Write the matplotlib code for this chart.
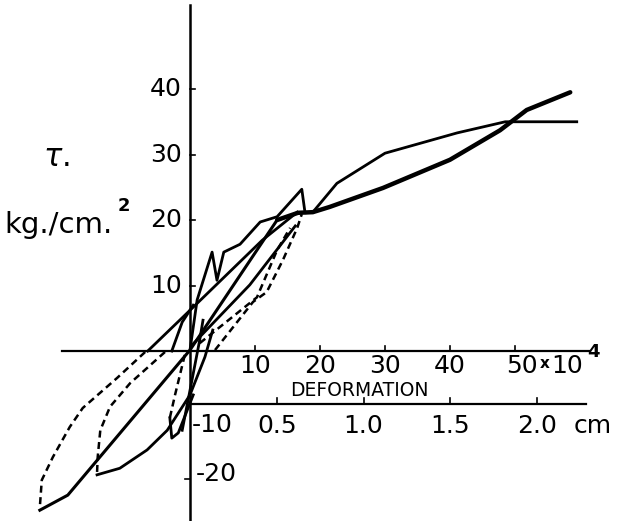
import matplotlib
matplotlib.use("Agg")
import matplotlib.pyplot as plt

# --- data (x in 10^-4 units, y = tau in kg/cm2) ---
thick_x = [13.4, 16.6, 18.9, 21.5, 29.7, 40.0, 47.7, 51.8, 58.5]
thick_y = [20.0, 21.1, 21.2, 22.0, 24.9, 29.2, 33.7, 36.8, 39.5]

upper_x = [18.9, 22.6, 30.0, 41.1, 48.5, 59.5]
upper_y = [21.2, 25.6, 30.2, 33.3, 35.0, 35.0]

diag_x = [-23.1, -18.8, 0.0, 13.4]
diag_y = [-24.3, -22.0, 0.15, 20.0]

line_a_x = [-6.5, 0.5, 11.1, 16.5]
line_a_y = [0.0, 6.7, 16.9, 21.2]

spike_x = [0.0, 1.1, 3.4, 4.15, 5.2, 7.7, 10.8, 13.4, 17.2, 17.7, 18.9]
spike_y = [0.15, 7.8, 15.1, 10.8, 15.1, 16.3, 19.7, 20.5, 24.7, 21.1, 21.2]

mid_x = [0.3, 9.2, 16.2]
mid_y = [0.9, 10.1, 19.1]

low_in_x = [-14.3, -10.8, -6.6, -3.5, 0.0, 2.3, 3.5]
low_in_y = [-18.9, -17.9, -15.1, -12.1, -6.7, -0.9, 3.2]

hook_x = [-3.1, -2.8, -1.8, 0.5]
hook_y = [-10.2, -13.3, -12.5, -6.7]

steep_x = [-1.2, 0.0, 1.5, 2.0]
steep_y = [-12.1, -6.0, 1.7, 4.7]

short_x = [-2.8, -1.2, 0.5]
short_y = [0.0, 4.4, 7.0]

# dashed branches
dra_x = [3.85, 9.7, 11.8, 14.3, 16.5, 17.2]
dra_y = [0.15, 7.5, 9.0, 13.9, 18.8, 20.9]
drb_x = [1.5, 10.3, 13.4, 15.4]
drb_y = [1.2, 8.2, 15.4, 18.8]
dlo_x = [-6.9, -11.2, -16.5, -18.5, -21.1, -22.8, -23.1]
dlo_y = [-0.15, -4.1, -8.7, -11.6, -16.2, -19.7, -23.8]
dli_x = [-3.85, -9.2, -12.3, -13.8, -14.2, -14.3]
dli_y = [-0.15, -4.9, -8.5, -12.1, -16.2, -18.6]
dsm_x = [-0.8, -2.3, -3.1]
dsm_y = [-0.6, -6.7, -10.2]

# axes / ticks
x_ticks = [10, 20, 30, 40]
y_ticks_pos = [10, 20, 30, 40]
cm_ticks = [0.5, 1.0, 1.5, 2.0]
cm_labels = ["0.5", "1.0", "1.5", "2.0"]
cm_scale = 26.7      # 1 cm in 10^-4 units of the upper scale
cm_axis_y = -8.1

fig = plt.figure(figsize=(6.21, 5.21), dpi=100)
ax = fig.add_axes([0, 0, 1, 1])
ax.set_xlim(-29.23, 66.31)
ax.set_ylim(-25.95, 53.59)
ax.axis("off")

k = "black"
# axes lines
ax.plot([-19.7, 61.5], [0, 0], color=k, lw=1.6)
ax.plot([0, 0], [-25.8, 52.8], color=k, lw=1.8)
ax.plot([0, 60.9], [cm_axis_y, cm_axis_y], color=k, lw=1.6)

for t in x_ticks + [50]:
    ax.plot([t, t], [0, 0.8], color=k, lw=1.2)
for t in y_ticks_pos:
    ax.plot([0, 0.7], [t, t], color=k, lw=1.2)
ax.plot([-0.7, 0], [-19.5, -19.5], color=k, lw=1.2)
for t in cm_ticks:
    ax.plot([t * cm_scale] * 2, [cm_axis_y, cm_axis_y + 0.9], color=k, lw=1.2)

# curves
ax.plot(thick_x, thick_y, color=k, lw=3.2, solid_capstyle="round")
ax.plot(upper_x, upper_y, color=k, lw=2.0)
ax.plot(diag_x, diag_y, color=k, lw=2.2)
ax.plot(line_a_x, line_a_y, color=k, lw=2.0)
ax.plot(spike_x, spike_y, color=k, lw=2.0)
ax.plot(mid_x, mid_y, color=k, lw=2.0)
ax.plot(low_in_x, low_in_y, color=k, lw=2.0)
ax.plot(hook_x, hook_y, color=k, lw=2.0)
ax.plot(steep_x, steep_y, color=k, lw=2.0)
ax.plot(short_x, short_y, color=k, lw=2.0)

for xs, ys in [(dra_x, dra_y), (drb_x, drb_y), (dlo_x, dlo_y),
               (dli_x, dli_y), (dsm_x, dsm_y)]:
    ax.plot(xs, ys, color=k, lw=1.8, dashes=(2.8, 1.8))

# tick labels
fs = 18
for t in y_ticks_pos:
    ax.text(-1.3, t, str(t), ha="right", va="center", fontsize=fs)
for t in x_ticks:
    ax.text(t, -2.3, str(t), ha="center", va="center", fontsize=fs)
ax.text(48.6, -2.3, "50", ha="left", va="center", fontsize=fs)
ax.text(54.6, -1.9, "x", ha="center", va="center", fontsize=11, fontweight="bold")
ax.text(55.6, -2.3, "10", ha="left", va="center", fontsize=fs)
ax.text(62.0, -0.1, "4", ha="center", va="center", fontsize=13, fontweight="bold")
ax.text(3.4, -11.3, "-10", ha="center", va="center", fontsize=fs)
ax.text(4.0, -18.8, "-20", ha="center", va="center", fontsize=fs)
for t, lab in zip(cm_ticks, cm_labels):
    ax.text(t * cm_scale, -11.4, lab, ha="center", va="center", fontsize=fs)
ax.text(62.0, -11.4, "cm", ha="center", va="center", fontsize=fs)
ax.text(26.1, -6.1, "DEFORMATION", ha="center", va="center", fontsize=13.5)

# y axis title
ax.text(-20.5, 29.6, r"$\tau$.", ha="center", va="center", fontsize=22)
ax.text(-28.5, 19.3, "kg./cm.", ha="left", va="center", fontsize=21)
ax.text(-10.1, 22.2, "2", ha="center", va="center", fontsize=13, fontweight="bold")

fig.savefig("out.png", dpi=100)
